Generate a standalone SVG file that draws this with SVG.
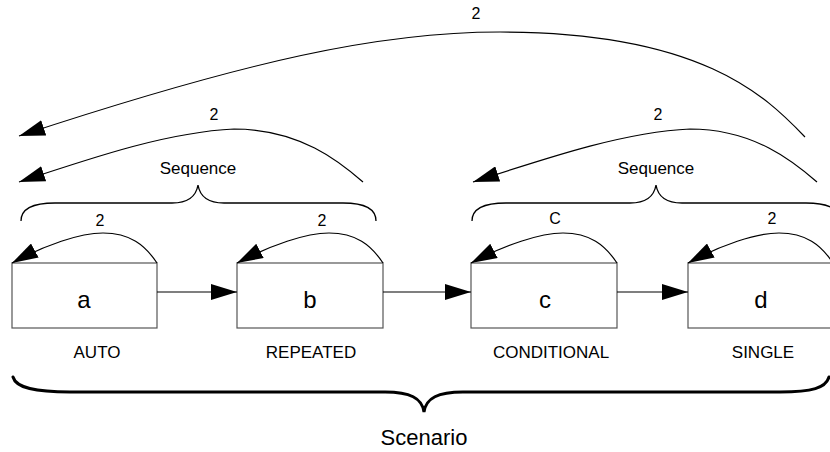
<svg xmlns="http://www.w3.org/2000/svg" width="830" height="452" viewBox="0 0 830 452">
<defs>
<style>
.box{fill:#fff;stroke:#555;stroke-width:1.2}
.ln{fill:none;stroke:#000;stroke-width:1.2}
.br{fill:none;stroke:#000;stroke-width:1.3}
.t{font-family:"Liberation Sans",Arial,sans-serif;fill:#000;text-anchor:middle}
.lbl{font-size:16px}
.seq{font-size:17px}
.big{font-size:24px}
.cap{font-size:17px}
.sc{font-size:22px}
</style>
<marker id="ah" markerWidth="26" markerHeight="16" refX="26" refY="8" orient="auto" markerUnits="userSpaceOnUse"><path d="M0,0 L26,8 L0,16 z" fill="#000"/></marker>
</defs>
<rect width="830" height="452" fill="#fff"/>

<g id="node-a">
<rect class="box" x="12" y="263" width="145" height="65"/>
<text class="t big" x="84" y="308">a</text>
<text class="t cap" x="97" y="358">AUTO</text>
</g>
<g id="node-b">
<rect class="box" x="237" y="263" width="146" height="65"/>
<text class="t big" x="310" y="308">b</text>
<text class="t cap" x="311" y="358">REPEATED</text>
</g>
<g id="node-c">
<rect class="box" x="471" y="263" width="146" height="65"/>
<text class="t big" x="545" y="308">c</text>
<text class="t cap" x="551" y="358">CONDITIONAL</text>
</g>
<g id="node-d">
<rect class="box" x="688" y="263" width="145" height="65"/>
<text class="t big" x="761" y="308">d</text>
<text class="t cap" x="763" y="358">SINGLE</text>
</g>

<g id="braces">
<path class="br" d="M21,221 C21,208 35,203 55,203 L172,203 C188,203 196,197 198,185 C200,197 208,203 224,203 L343,203 C363,203 376,208 376,221"/>
<text class="t seq" x="198" y="174">Sequence</text>
<path class="br" d="M472,221 C472,208 486,203 506,203 L630,203 C646,203 654,197 656,185 C658,197 666,203 682,203 L806,203 C826,203 840,208 840,221"/>
<text class="t seq" x="656" y="174">Sequence</text>
<path d="M13,377 C16,388 35,392 70,392 L385,392 C410,392 422,398 424,412 C426,398 438,392 463,392 L780,392 C812,392 826,388 829,377" fill="none" stroke="#000" stroke-width="3" stroke-linecap="round"/>
<text class="t sc" x="424" y="445">Scenario</text>
</g>

<g id="connectors">
<path class="ln" marker-end="url(#ah)" d="M157,292 L237,292"/>
<path class="ln" marker-end="url(#ah)" d="M383,292 L471,292"/>
<path class="ln" marker-end="url(#ah)" d="M617,292 L688,292"/>
<path class="ln" marker-end="url(#ah)" d="M157,263 C145,245 130,233 103,233 C80,233 45,245 12,263"/>
<text class="t lbl" x="100" y="226">2</text>
<path class="ln" marker-end="url(#ah)" d="M383,263 C371,245 356,233 329,233 C306,233 271,245 237,263"/>
<text class="t lbl" x="322" y="226">2</text>
<path class="ln" marker-end="url(#ah)" d="M617,263 C605,245 590,233 563,233 C540,233 505,245 471,263"/>
<text class="t lbl" x="555" y="224">C</text>
<path class="ln" marker-end="url(#ah)" d="M833,263 C821,245 806,233 779,233 C756,233 721,245 688,263"/>
<text class="t lbl" x="772" y="224">2</text>
<path class="ln" marker-end="url(#ah)" d="M363,182 C340,162 300,129 234,129 C170,132 100,155 19,182"/>
<text class="t lbl" x="214" y="120">2</text>
<path class="ln" marker-end="url(#ah)" d="M817,182 C794,162 754,129 690,129 C626,132 556,155 473,182"/>
<text class="t lbl" x="658" y="120">2</text>
<path class="ln" marker-end="url(#ah)" d="M805,137 C765,95 700,32 500,32 C380,32 250,60 19,136"/>
<text class="t lbl" x="476" y="19">2</text>
</g>
</svg>
